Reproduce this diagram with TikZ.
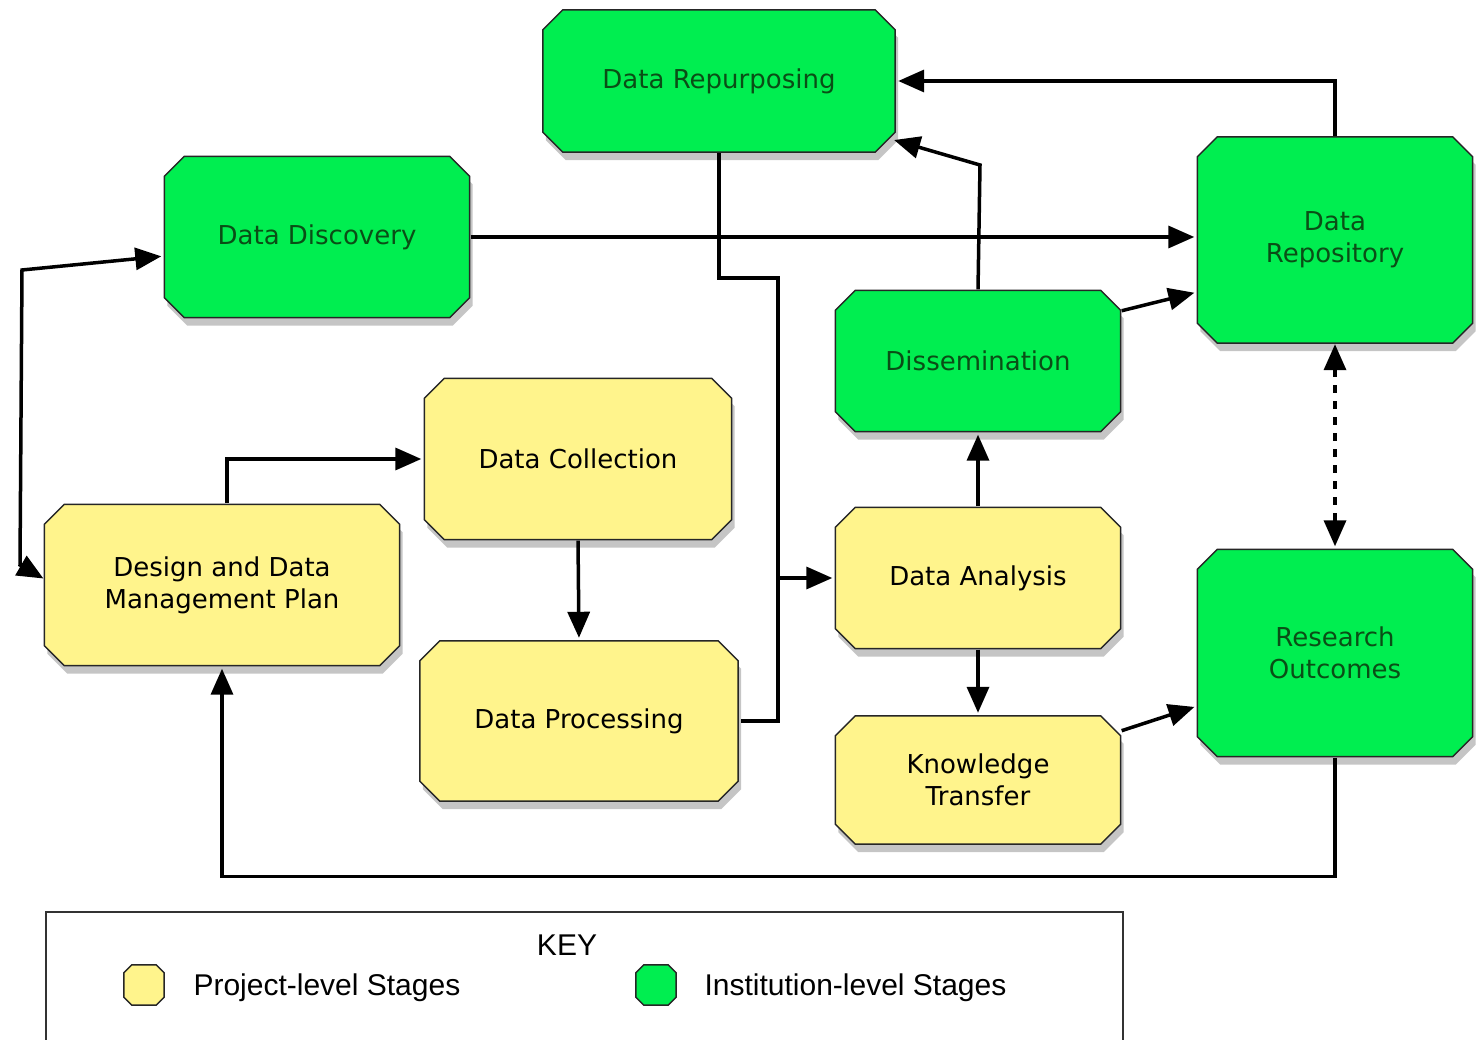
\documentclass[tikz,border=0pt]{standalone}
\usepackage{fontspec}
\setmainfont{DejaVu Sans}
\newfontfamily\keyfont{Liberation Sans}
\usetikzlibrary{shadows,arrows.meta,backgrounds}
\definecolor{projyellow}{RGB}{255,244,140}
\definecolor{instgreen}{RGB}{0,238,80}
\definecolor{textgreen}{RGB}{10,78,22}
% octagon round a named node: node, chamfer, style
\newcommand{\octpath}[3]{%
  \path[#3] ([xshift=#2]#1.north west) -- ([xshift=-#2]#1.north east)
    -- ([yshift=-#2]#1.north east) -- ([yshift=#2]#1.south east)
    -- ([xshift=-#2]#1.south east) -- ([xshift=#2]#1.south west)
    -- ([yshift=#2]#1.south west) -- ([yshift=-#2]#1.north west) -- cycle;}
\begin{document}
\begin{tikzpicture}[x=1pt,y=-1pt,
  >={Triangle[length=26pt,width=22pt]},
  stage/.style={inner sep=0pt, align=center, font=\fontsize{26}{32}\selectfont},
  proj/.style={stage, text=black},
  inst/.style={stage, text=textgreen},
  outline/.style={draw=black!85, line width=1.5pt,
    drop shadow={shadow xshift=3pt, shadow yshift=-8pt, opacity=0.45}},
  link/.style={line width=3.5pt, shorten >=3pt, shorten <=1pt},
  keyicon/.style={inner sep=0pt, minimum width=40pt, minimum height=40pt},
  keylabel/.style={font=\keyfont\fontsize{30}{36}\selectfont, anchor=west}]
\useasboundingbox (0,0) rectangle (1476,1040);

% stages
\node[inst, minimum width=352pt, minimum height=142pt] (repurp) at (719,81) {Data Repurposing};
\node[inst, minimum width=305pt, minimum height=161pt] (disc) at (317,237) {Data Discovery};
\node[inst, minimum width=275pt, minimum height=206pt] (repo) at (1335,240) {Data\\Repository};
\node[inst, minimum width=285pt, minimum height=141pt] (dissem) at (978,361) {Dissemination};
\node[proj, minimum width=307pt, minimum height=161pt] (coll) at (578,459) {Data Collection};
\node[proj, minimum width=355pt, minimum height=161pt] (dmp) at (222,585) {Design and Data\\Management Plan};
\node[proj, minimum width=285pt, minimum height=141pt] (anal) at (978,578) {Data Analysis};
\node[proj, minimum width=318pt, minimum height=160pt] (proc) at (579,721) {Data Processing};
\node[inst, minimum width=275pt, minimum height=207pt] (outc) at (1335,653) {Research\\Outcomes};
\node[proj, minimum width=285pt, minimum height=128pt] (know) at (978,780) {Knowledge\\Transfer};

\coordinate (lefttop) at (22,270);
\coordinate (leftbot) at (20,565);
\coordinate (dissbend) at (980,165);
\coordinate (junc) at (778,578);

% links
\path[draw,link,<->] ([yshift=6pt]dmp.west) -- (leftbot) -- (lefttop) -- ([yshift=-19pt]disc.west);
\path[draw,link,->] (disc.east) -- (repo.west |- disc.east);
\path[draw,link,->] (repo.north) |- (repurp.east);
\path[draw,link,->] (dissem.north) -- (dissbend) -- ([xshift=-4pt,yshift=13pt]repurp.south east);
\path[draw,link,->] ([yshift=50pt]dissem.east) -- ([yshift=-52pt]repo.west);
\path[draw,link] (repurp.south) -- ++(0,126) -| (junc) |- (proc.east);
\path[draw,link,->] (junc) -- (anal.west);
\path[draw,link,->] (anal.north) -- (dissem.south);
\path[draw,link,->] (anal.south) -- (know.north);
\path[draw,link,->] ([yshift=49pt]know.east) -- ([yshift=-53pt]outc.west);
\path[draw,link,<->,dash pattern=on 8pt off 8pt] (repo.south) -- (outc.north);
\path[draw,link,->] (outc.south) -- ++(0,120) -| (dmp.south);
\path[draw,link,->] ([xshift=5pt]dmp.north) |- (coll.west);
\path[draw,link,->] (coll.south) -- (proc.north);

% key
\node[draw=black!80, line width=2pt, anchor=north west, minimum width=1077pt, minimum height=150pt] (keybox) at (45,911) {};
\node[font=\keyfont\fontsize{30}{36}\selectfont] (keytitle) at (567,945) {KEY};
\node[keyicon] (projicon) at (144,985) {};
\node[keylabel] (projlabel) at (190,988) {Project-level Stages};
\node[keyicon] (insticon) at (656,985) {};
\node[keylabel] (instlabel) at (701,988) {Institution-level Stages};

% outlines behind everything
\begin{scope}[on background layer]
\fill[white] (0,0) rectangle (1476,1040);
\foreach \n/\c in {repurp/instgreen, disc/instgreen, repo/instgreen, dissem/instgreen,
    outc/instgreen, coll/projyellow, dmp/projyellow, anal/projyellow,
    proc/projyellow, know/projyellow}
  \octpath{\n}{20pt}{outline, fill=\c};
\octpath{projicon}{8pt}{draw=black!85, line width=1.5pt, fill=projyellow};
\octpath{insticon}{8pt}{draw=black!85, line width=1.5pt, fill=instgreen};
\end{scope}
\end{tikzpicture}
\end{document}
